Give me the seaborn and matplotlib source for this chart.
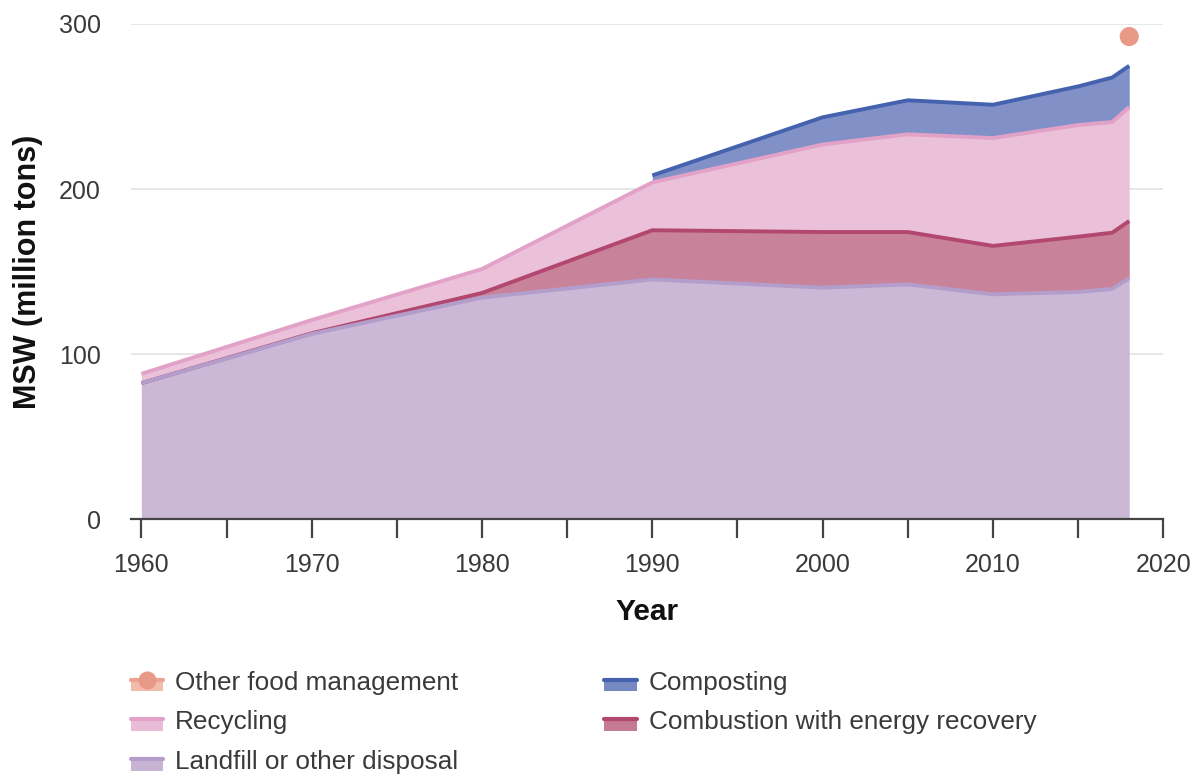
import numpy as np
import pandas as pd
import matplotlib
matplotlib.use("Agg")
import matplotlib.pyplot as plt
import seaborn as sns
from matplotlib.legend_handler import HandlerBase
from matplotlib.patches import Rectangle
from matplotlib.lines import Line2D

# MSW management by year (million tons)
years       = [1960, 1970, 1980, 1990, 2000, 2005, 2010, 2015, 2017, 2018]
landfill    = [82.5, 112.3, 134.3, 145.3, 140.3, 142.3, 136.3, 137.7, 139.6, 146.1]
combustion  = [0.0, 0.4, 2.8, 29.8, 33.7, 31.7, 29.3, 33.5, 34.0, 34.6]
recycling   = [5.6, 8.0, 14.5, 29.0, 53.0, 59.2, 65.3, 67.6, 67.0, 69.0]
composting  = [np.nan, np.nan, np.nan, 4.2, 16.5, 20.6, 20.2, 23.4, 27.0, 25.0]
other_year  = [2018]
other_food  = [17.7]

df = pd.DataFrame({"year": years, "landfill": landfill, "combustion": combustion,
                   "recycling": recycling, "composting": composting})
df["c_land"] = df["landfill"]
df["c_comb"] = df["c_land"] + df["combustion"]
df["c_recy"] = df["c_comb"] + df["recycling"]
df["c_comp"] = df["c_recy"] + df["composting"]
other_total = [df["c_comp"].iloc[-1] + other_food[0]]

# (label, fill, line, lower, upper)
layers = [
    ("Landfill or other disposal", "#c7b3d3", "#b39dcb", None, "c_land"),
    ("Combustion with energy recovery", "#c47a93", "#b2486f", "c_land", "c_comb"),
    ("Recycling", "#e9bdd7", "#e2a2c8", "c_comb", "c_recy"),
    ("Composting", "#7789c3", "#4462ae", "c_recy", "c_comp"),
]
other_fill, other_line, other_dot = "#f2bcad", "#eca394", "#e99a87"


class AreaHandler(HandlerBase):
    def __init__(self, fill, line, dot=None):
        super().__init__()
        self.fill, self.line, self.dot = fill, line, dot

    def create_artists(self, legend, orig, xd, yd, w, h, fs, trans):
        top = yd + h * 0.55
        rect = Rectangle((xd, yd - h * 0.1), w, top - yd + h * 0.1,
                         facecolor=self.fill, edgecolor="none", transform=trans)
        ln = Line2D([xd, xd + w], [top] * 2, color=self.line,
                    lw=3, transform=trans)
        arts = [rect, ln]
        if self.dot:
            arts.append(Line2D([xd + w / 2], [top], marker="o",
                               ms=12, color=self.dot, lw=0, transform=trans))
        return arts


sns.set_theme(style="white")
plt.rcParams["font.family"] = ["Liberation Sans", "DejaVu Sans"]

fig = plt.figure(figsize=(12.03, 7.74), dpi=100)
ax = fig.add_axes([0.109, 0.329, 0.858, 0.64])

for label, fill, line, lo, hi in layers:
    sub = df.dropna(subset=[hi])
    lower = 0 if lo is None else sub[lo]
    ax.fill_between(sub["year"], lower, sub[hi], color=fill, alpha=0.93,
                    lw=0, zorder=2)

# lines drawn top layer first so lower edges stay visible where they meet
for label, fill, line, lo, hi in reversed(layers):
    sub = df.dropna(subset=[hi])
    sns.lineplot(x=sub["year"], y=sub[hi], color=line, lw=2.8, ax=ax,
                 zorder=3, solid_capstyle="butt")

sns.scatterplot(x=other_year, y=other_total, color=other_dot, s=190,
                edgecolor="none", ax=ax, zorder=4)

ax.set_xlim(1959.4, 2020)
ax.set_ylim(0, 300)
ax.set_yticks([0, 100, 200, 300])
ax.set_xticks(range(1960, 2021, 10))
ax.set_xticks(range(1965, 2020, 10), minor=True)
ax.yaxis.grid(True, color="#e3e3e3", lw=1.2, zorder=0)
ax.set_axisbelow(True)
for s in ["top", "right", "left"]:
    ax.spines[s].set_visible(False)
ax.spines["bottom"].set_color("#444444")
ax.spines["bottom"].set_linewidth(1.6)
ax.tick_params(axis="x", which="both", direction="out", length=13.5,
               width=1.6, color="#444444", labelsize=18, labelcolor="#3a3a3a",
               pad=11, bottom=True)
ax.tick_params(axis="y", length=0, labelsize=18, labelcolor="#3a3a3a", pad=22)
ax.set_xlabel("Year", fontsize=21.5, fontweight="bold", labelpad=15,
              color="#111111")
ax.set_ylabel("MSW (million tons)", fontsize=22, fontweight="bold",
              labelpad=11, color="#111111")

handles = [Line2D([], []) for _ in range(5)]
labels = ["Other food management", "Recycling", "Landfill or other disposal",
          "Composting", "Combustion with energy recovery"]
hmap = {
    handles[0]: AreaHandler(other_fill, other_line, other_dot),
    handles[1]: AreaHandler(layers[2][1], layers[2][2]),
    handles[2]: AreaHandler(layers[0][1], layers[0][2]),
    handles[3]: AreaHandler(layers[3][1], layers[3][2]),
    handles[4]: AreaHandler(layers[1][1], layers[1][2]),
}
fig.legend(handles, labels, handler_map=hmap, ncol=2, loc="upper left",
           bbox_to_anchor=(0.1, 0.147), frameon=False, fontsize=18.8,
           labelcolor="#3a3a3a", handlelength=1.25, handleheight=0.7,
           handletextpad=0.45, columnspacing=5.6, labelspacing=0.6,
           borderaxespad=0)

fig.savefig("out.png", dpi=100)
